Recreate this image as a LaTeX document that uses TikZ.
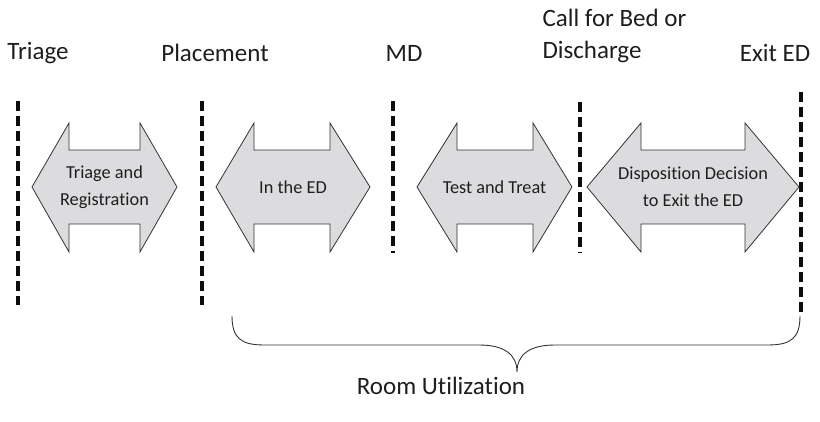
\documentclass[tikz,border=0pt]{standalone}
\usepackage{fontspec}
\setmainfont{Carlito}[Ligatures=NoCommon]
\definecolor{stagegray}{HTML}{DCDCDF}
\definecolor{inkgray}{HTML}{1E1E1E}
% double-headed stage arrow: outer tips #1,#4 ; shaft edges #2,#3
\newcommand\stagearrow[4]{%
  \draw[stage] (#1,187) -- (#2,123) -- (#2,150) -- (#3,150) -- (#3,123)
    -- (#4,187) -- (#3,252) -- (#3,224) -- (#2,224) -- (#2,252) -- cycle;}
\begin{document}
\begin{tikzpicture}[x=1pt,y=-1pt,
  milestone/.style={line width=3.2pt, dash pattern=on 10pt off 5pt, draw=black!95},
  stage/.style={fill=stagegray, draw=black!80, line width=0.8pt, line join=miter},
  stagetext/.style={font=\fontsize{18.3}{27}\selectfont, align=center, text=inkgray},
  eventtext/.style={font=\fontsize{25}{32}\selectfont, text=inkgray},
  bracestyle/.style={draw=black!80, line width=0.9pt}]
\useasboundingbox (0,0) rectangle (820,422);

% milestone separators
\coordinate (m1t) at (18,101);  \coordinate (m1b) at (18,305);
\coordinate (m2t) at (202,101); \coordinate (m2b) at (202,305);
\coordinate (m3t) at (393,101); \coordinate (m3b) at (393,253);
\coordinate (m4t) at (580,102); \coordinate (m4b) at (580,253);
\coordinate (m5t) at (801,92);  \coordinate (m5b) at (801,312);
\draw[milestone] (m1t) -- (m1b);
\draw[milestone] (m2t) -- (m2b);
\draw[milestone] (m3t) -- (m3b);
\draw[milestone] (m4t) -- (m4b);
\draw[milestone] (m5t) -- (m5b);

% milestone labels
\node[eventtext] (triage) at (38,53) {Triage};
\node[eventtext] (placement) at (215,53) {Placement};
\node[eventtext] (md) at (404,53) {MD};
\node[eventtext, align=left, anchor=west] (callbed) at (539,36) {Call for Bed or\\Discharge};
\node[eventtext] (exited) at (775,53) {Exit ED};

% stages
\stagearrow{32}{69}{140}{177}
\stagearrow{216}{254}{330}{370}
\stagearrow{417}{457}{533}{572}
\stagearrow{587}{641}{745}{799}
\node[stagetext] (s1) at (104.5,187) {Triage and\\Registration};
\node[stagetext] (s2) at (293,187) {In the ED};
\node[stagetext] (s3) at (494.5,187) {Test and Treat};
\node[stagetext] (s4) at (693,187) {Disposition Decision\\to Exit the ED};

% brace spanning room time
\coordinate (bl) at (232,316);
\coordinate (br) at (800,316);
\coordinate (btip) at (517,372);
\draw[bracestyle] (bl) .. controls (232,338) and (241,345) .. (264,345)
  -- (479,345) .. controls (505,345) and (517,355) .. (btip)
  .. controls (517,355) and (529,345) .. (555,345)
  -- (768,345) .. controls (791,345) and (800,338) .. (br);
\node[eventtext] (room) at (441,386) {Room Utilization};
\end{tikzpicture}
\end{document}
